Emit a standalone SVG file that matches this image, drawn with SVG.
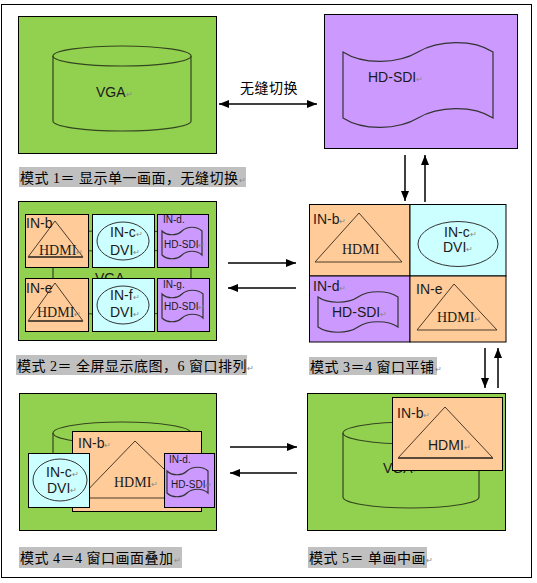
<svg xmlns="http://www.w3.org/2000/svg" width="537" height="583" viewBox="0 0 537 583">
<style>
.green{fill:#92d050;stroke:#000;stroke-width:1}
.org{fill:#ffcc99;stroke:#000;stroke-width:1}
.cyan{fill:#ccffff;stroke:#000;stroke-width:1}
.pur{fill:#cc99ff;stroke:#000;stroke-width:1}
.cyl{fill:none;stroke:#34451f;stroke-width:1.2}
.tri{fill:none;stroke:#4a3a2a;stroke-width:1}
.base{stroke:#5a4a3a;stroke-width:2}
.ell{fill:none;stroke:#333;stroke-width:1}
.tape{fill:none;stroke:#333;stroke-width:1.2}
.lbl{fill:#c0c0c0}
.cj{font-family:"Liberation Serif","Noto Sans CJK SC",serif;font-size:14px;fill:#000;letter-spacing:0.5px}
.s{font-family:"Liberation Sans",Arial,sans-serif;font-size:14px;fill:#1a1a1a}
.sm{font-family:"Liberation Sans",Arial,sans-serif;font-size:10px;fill:#1a1a1a}
.t{font-family:"Liberation Serif","Times New Roman",serif;font-size:14px;fill:#1a1a1a}
.r{fill:#888;font-size:8px}
.conn{stroke:#000;stroke-width:1.5;fill:none}
</style>
<defs>
<marker id="ah" markerUnits="userSpaceOnUse" markerWidth="10" markerHeight="8" refX="10" refY="4" orient="auto-start-reverse">
<path d="M0,0 L10,4 L0,8 Z" fill="#000"/>
</marker>
</defs>
<rect x="1.5" y="4.5" width="530" height="573" fill="#fff" stroke="#000" stroke-width="1"/>

<g id="mode1-vga">
<rect class="green" x="18.5" y="16.5" width="198" height="137"/>
<path class="cyl" d="M53,56 V121 A69,10 0 0 0 191,121 V56"/>
<ellipse class="cyl" cx="122" cy="56" rx="69" ry="10"/>
<text class="s" x="96" y="97">VGA<tspan class="r">↵</tspan></text>
</g>

<g id="mode1-hdsdi">
<rect class="pur" x="324.5" y="14.5" width="193" height="134"/>
<path class="tape" d="M343,52 C363,65 398,64 418,52 C438,40 473,39 493,52 V118 C473,105 438,106 418,118 C398,130 363,131 343,118 Z"/>
<text class="s" x="368" y="82">HD-SDI<tspan class="r">↵</tspan></text>
</g>

<g id="label1">
<rect class="lbl" x="19" y="167" width="227" height="20"/>
<text class="cj" x="20" y="183">模式 1＝ 显示单一画面，无缝切换<tspan class="r">↵</tspan></text>
</g>

<g id="mode2">
<rect class="green" x="18.5" y="201.5" width="198" height="139"/>
<path class="cyl" d="M53,241 V304 A69,11 0 0 0 191,304 V241"/>
<ellipse class="cyl" cx="122" cy="241" rx="69" ry="11"/>
<text class="s" x="95" y="283">VGA<tspan class="r">↵</tspan></text>
<g id="m2-inb">
<rect class="org" x="25.5" y="214.5" width="63" height="53"/>
<polygon class="tri" points="55,221 28,257 83,257"/>
<line class="base" x1="28" y1="257" x2="83" y2="257"/>
<text class="s" x="26" y="228">IN-b</text>
<text class="t" x="39" y="255">HDMI<tspan class="r">↵</tspan></text>
</g>
<g id="m2-inc">
<rect class="cyan" x="92.5" y="214.5" width="62" height="53"/>
<ellipse class="ell" cx="123" cy="241" rx="26" ry="19"/>
<text class="s" x="110" y="237">IN-c<tspan class="r">↵</tspan></text>
<text class="s" x="110" y="255">DVI<tspan class="r">↵</tspan></text>
</g>
<g id="m2-ind">
<rect class="pur" x="157.5" y="214.5" width="51" height="53"/>
<path class="tape" d="M162,231 C167,236 177,236 182,231 C187,226 197,226 202,231 V255 C197,250 187,250 182,255 C177,260 167,260 162,255 Z"/>
<text class="sm" x="163" y="223">IN-d.</text>
<text class="sm" x="164" y="248">HD-SDI<tspan class="r">↵</tspan></text>
</g>
<g id="m2-ine">
<rect class="org" x="25.5" y="278.5" width="63" height="53"/>
<polygon class="tri" points="55,283 28,321 83,321"/>
<line class="base" x1="28" y1="321" x2="83" y2="321"/>
<text class="s" x="26" y="293">IN-e</text>
<text class="t" x="37" y="317">HDMI<tspan class="r">↵</tspan></text>
</g>
<g id="m2-inf">
<rect class="cyan" x="92.5" y="278.5" width="62" height="53"/>
<ellipse class="ell" cx="123" cy="305" rx="26" ry="19"/>
<text class="s" x="110" y="300">IN-f<tspan class="r">↵</tspan></text>
<text class="s" x="110" y="317">DVI<tspan class="r">↵</tspan></text>
</g>
<g id="m2-ing">
<rect class="pur" x="157.5" y="278.5" width="52" height="53"/>
<path class="tape" d="M162,294 C167,299 177,299 182,294 C187,289 198,289 203,294 V318 C198,313 187,313 182,318 C177,323 167,323 162,318 Z"/>
<text class="sm" x="163" y="288">IN-g.</text>
<text class="sm" x="164" y="310">HD-SDI<tspan class="r">↵</tspan></text>
</g>
</g>

<g id="label2">
<rect class="lbl" x="16" y="355" width="231" height="20"/>
<text class="cj" x="17" y="371">模式 2＝ 全屏显示底图，6 窗口排列<tspan class="r">↵</tspan></text>
</g>

<g id="mode3">
<g id="m3-inb">
<rect class="org" x="309.5" y="204.5" width="100.5" height="71.5"/>
<polygon class="tri" points="359,213 315,262 402,262"/>
<text class="s" x="313" y="224">IN-b<tspan class="r">↵</tspan></text>
<text class="t" x="342" y="254">HDMI</text>
</g>
<g id="m3-inc">
<rect class="cyan" x="410" y="204.5" width="96" height="71.5"/>
<ellipse class="ell" cx="458" cy="244" rx="40" ry="22.5"/>
<text class="s" x="444" y="237">IN-c<tspan class="r">↵</tspan></text>
<text class="s" x="443" y="252">DVI<tspan class="r">↵</tspan></text>
</g>
<g id="m3-ind">
<rect class="pur" x="309.5" y="276" width="100.5" height="66" stroke-width="1.5"/>
<path class="tape" stroke-width="1.5" d="M318,297 C328,304 348,304 358,297 C368,290 388,290 398,297 V327 C388,320 368,320 358,327 C348,334 328,334 318,327 Z"/>
<text class="s" x="313" y="291">IN-d<tspan class="r">↵</tspan></text>
<text class="s" x="332" y="317">HD-SDI<tspan class="r">↵</tspan></text>
</g>
<g id="m3-ine">
<rect class="org" x="410" y="276" width="96" height="66"/>
<polygon class="tri" points="454,284 417,330 497,330"/>
<text class="s" x="416" y="294">IN-e</text>
<text class="t" x="437" y="322">HDMI<tspan class="r">↵</tspan></text>
</g>
</g>

<g id="label3">
<rect class="lbl" x="309" y="357" width="128" height="18"/>
<text class="cj" x="310" y="372">模式 3＝4 窗口平铺<tspan class="r">↵</tspan></text>
</g>

<g id="mode4">
<rect class="green" x="19.5" y="393.5" width="197" height="137"/>
<path class="cyl" d="M53,433 V470"/>
<ellipse class="cyl" cx="122" cy="433" rx="69" ry="11"/>
<g id="m4-inb">
<rect class="org" x="72.5" y="431.5" width="129" height="80"/>
<polygon class="tri" points="135,441 80,498 194,498"/>
<text class="s" x="78" y="448">IN-b<tspan class="r">↵</tspan></text>
<text class="t" x="114" y="487">HDMI<tspan class="r">↵</tspan></text>
</g>
<g id="m4-inc">
<rect class="cyan" x="28.5" y="453.5" width="61" height="54"/>
<ellipse class="ell" cx="60" cy="480" rx="27" ry="21"/>
<text class="s" x="46" y="477">IN-c<tspan class="r">↵</tspan></text>
<text class="s" x="47" y="493">DVI<tspan class="r">↵</tspan></text>
</g>
<g id="m4-ind">
<rect class="pur" x="164.5" y="453.5" width="50" height="54"/>
<path class="tape" d="M167,471 C172,476 182,476 187,471 C192,466 203,466 208,471 V493 C203,488 192,488 187,493 C182,498 172,498 167,493 Z"/>
<text class="sm" x="169" y="463">IN-d.</text>
<text class="sm" x="171" y="488">HD-SDI<tspan class="r">↵</tspan></text>
</g>
</g>

<g id="label4">
<rect class="lbl" x="19" y="547" width="163" height="21"/>
<text class="cj" x="20" y="563">模式 4＝4 窗口画面叠加<tspan class="r">↵</tspan></text>
</g>

<g id="mode5">
<rect class="green" x="307.5" y="393.5" width="198" height="137"/>
<path class="cyl" d="M343,433 V497 A68,11 0 0 0 479,497 V433"/>
<ellipse class="cyl" cx="411" cy="433" rx="68" ry="11"/>
<text class="s" x="383" y="473">VGA<tspan class="r">↵</tspan></text>
<g id="m5-inb">
<rect class="org" x="392.5" y="397.5" width="110" height="73"/>
<polygon class="tri" points="445,407 398,458 493,458"/>
<line class="base" x1="398" y1="458" x2="493" y2="458"/>
<text class="s" x="397" y="418">IN-b<tspan class="r">↵</tspan></text>
<text class="s" x="428" y="450">HDMI<tspan class="r">↵</tspan></text>
</g>
</g>

<g id="label5">
<rect class="lbl" x="308" y="547" width="119" height="21"/>
<text class="cj" x="309" y="563">模式 5＝ 单画中画<tspan class="r">↵</tspan></text>
</g>

<g id="connectors">
<line class="conn" x1="219" y1="104" x2="317" y2="104" marker-start="url(#ah)" marker-end="url(#ah)"/>
<text class="cj" x="240" y="93" font-family="Noto Sans CJK SC, sans-serif" letter-spacing="0">无缝切换</text>
<line class="conn" x1="405" y1="155" x2="405" y2="201" marker-end="url(#ah)"/>
<line class="conn" x1="425" y1="202" x2="425" y2="155" marker-end="url(#ah)"/>
<line class="conn" x1="228" y1="263" x2="296" y2="263" marker-end="url(#ah)"/>
<line class="conn" x1="296" y1="288" x2="228" y2="288" marker-end="url(#ah)"/>
<line class="conn" x1="485" y1="348" x2="485" y2="388" marker-end="url(#ah)"/>
<line class="conn" x1="498" y1="388" x2="498" y2="348" marker-end="url(#ah)"/>
<line class="conn" x1="230" y1="447" x2="297" y2="447" marker-end="url(#ah)"/>
<line class="conn" x1="297" y1="473" x2="230" y2="473" marker-end="url(#ah)"/>
</g>
</svg>
